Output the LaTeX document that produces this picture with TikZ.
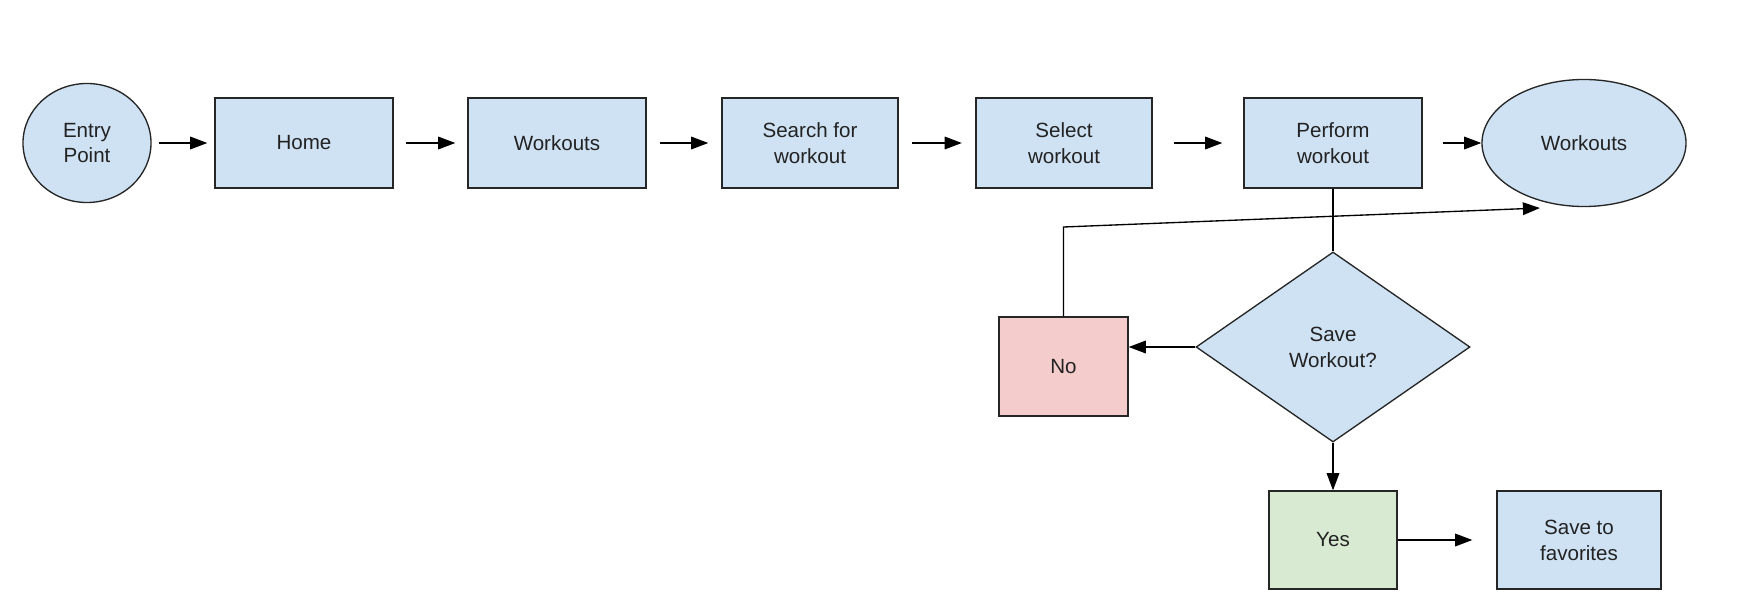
\documentclass[tikz,border=0pt]{standalone}
\usepackage{fontspec}
\setmainfont{Liberation Sans}
\usetikzlibrary{shapes.geometric,arrows.meta}
\definecolor{hellblau}{HTML}{CFE2F3}
\definecolor{hellrot}{HTML}{F4CCCC}
\definecolor{hellgruen}{HTML}{D9EAD3}
\definecolor{schrift}{HTML}{222222}
\tikzset{
	kasten/.style={draw=black!85, line width=0.85pt, fill=hellblau, align=center,
		inner sep=0pt, text=schrift, font=\fontsize{13}{16.4}\selectfont},
	oval/.style={kasten, ellipse},
	raute/.style={kasten, diamond, aspect=1.442},
	pfeil/.style={line width=0.85pt, -{Triangle[length=0.38cm, width=0.28cm]}},
	linie/.style={line width=0.85pt}
}
\begin{document}
\begin{tikzpicture}[x=0.02222cm, y=-0.02222cm]
	\useasboundingbox (0,0) rectangle (1755,597);
	% obere Reihe
	\node[oval, minimum width=2.844cm, minimum height=2.644cm] (entry) at (87, 143) {Entry\\Point};
	\node[kasten, minimum width=3.955cm, minimum height=2cm] (home) at (304, 143) {Home};
	\node[kasten, minimum width=3.955cm, minimum height=2cm] (workouts) at (557, 143) {Workouts};
	\node[kasten, minimum width=3.91cm, minimum height=2cm] (search) at (810, 143) {Search for\\workout};
	\node[kasten, minimum width=3.91cm, minimum height=2cm] (select) at (1064, 143) {Select\\workout};
	\node[kasten, minimum width=3.955cm, minimum height=2cm] (perform) at (1333, 143) {Perform\\workout};
	\node[oval, minimum width=4.533cm, minimum height=2.822cm] (ende) at (1584, 143) {Workouts};
	% Entscheidung
	\node[raute, minimum width=6.088cm, minimum height=4.222cm] (frage) at (1333, 347) {Save\\Workout?};
	\node[kasten, fill=hellrot, minimum width=2.866cm, minimum height=2.2cm] (nein) at (1063.5, 366.5) {No};
	\node[kasten, fill=hellgruen, minimum width=2.844cm, minimum height=2.178cm] (ja) at (1333, 540) {Yes};
	\node[kasten, minimum width=3.644cm, minimum height=2.178cm] (fav) at (1579, 540) {Save to\\favorites};
	\coordinate (knick) at (1063.5, 227);
	\coordinate (zurueck) at (1540, 208);
	% Pfeile oben
	\draw[pfeil, shorten <=0.155cm, shorten >=0.155cm] (entry) -- (home);
	\draw[pfeil, shorten <=0.267cm, shorten >=0.267cm] (home) -- (workouts);
	\draw[pfeil, shorten <=0.29cm, shorten >=0.29cm] (workouts) -- (search);
	\draw[pfeil, shorten <=0.3cm, shorten >=0.3cm] (search) -- (select);
	\draw[pfeil, shorten <=0.467cm, shorten >=0.467cm] (select) -- (perform);
	\draw[pfeil, shorten <=0.444cm] (perform) -- (ende);
	% Pfeile unten
	\draw[linie] (perform.south) -- (frage.north);
	\draw[pfeil] (frage.west) -- (frage.west -| nein.east);
	\draw[pfeil] (frage.south) -- (ja.north);
	\draw[pfeil, shorten >=0.533cm] (ja) -- (fav);
	\draw[pfeil] (nein.north) -- (knick) -- (zurueck);
\end{tikzpicture}
\end{document}
